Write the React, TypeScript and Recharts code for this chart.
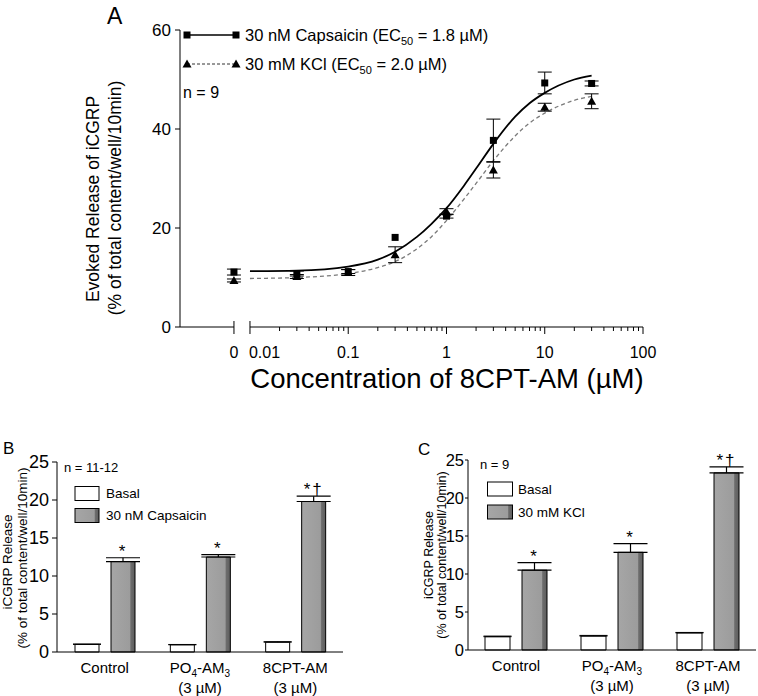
import React from "react";
import {
  ComposedChart, BarChart, Bar, Line, Scatter, XAxis, YAxis,
  ErrorBar, ReferenceLine, LabelList,
} from "recharts";

const FONT = "Arial, 'Liberation Sans', Helvetica, sans-serif";

// ---- Panel A: concentration-response ----
const conc = [0, 0.03, 0.1, 0.3, 1, 3, 10, 30];
const capsMean = [11.1, 10.8, 11.2, 18.1, 22.4, 37.7, 49.3, 49.2];
const capsSem = [0.6, 0.5, 0.4, 0, 0.4, 4.3, 2.2, 0.5];
const kclMean = [9.4, 10.2, 11.0, 14.6, 23.3, 31.7, 44.4, 45.6];
const kclSem = [0.3, 0.4, 0.6, 1.6, 0.6, 1.6, 0.8, 1.5];

const fitConc = [0.01, 0.03, 0.1, 0.2, 0.3, 0.5, 0.7, 1, 1.5, 2, 3, 5, 7, 10, 20, 30];
const capsFit = [11.3, 11.4, 12.2, 13.6, 15.2, 18.2, 20.8, 24.0, 28.5, 32.0, 37.0, 42.5, 45.2, 47.3, 50.0, 50.8];
const kclFit = [9.8, 10.0, 10.8, 12.0, 13.2, 15.8, 18.2, 21.5, 25.8, 29.0, 33.6, 38.6, 41.2, 43.2, 45.8, 46.6];

const xMajor = [0.01, 0.1, 1, 10, 100];
const xMajorLabels = ["0.01", "0.1", "1", "10", "100"];
const yTicksA = [0, 20, 40, 60];

// ---- Panels B and C: bar charts ----
const groups = ["Control", "PO4-AM3", "8CPT-AM"];
const groupSub = ["", "(3 \u00b5M)", "(3 \u00b5M)"];
const sigMarks = ["*", "*", "*\u2020"];
const yTicksBC = [0, 5, 10, 15, 20, 25];

const bBasal = [1.0, 0.95, 1.3];
const bBasalErr = [0.05, 0.04, 0.05];
const bCaps = [11.9, 12.5, 19.8];
const bCapsErr = [0.5, 0.3, 0.7];

const cBasal = [1.75, 1.84, 2.25];
const cBasalErr = [0.08, 0.08, 0.06];
const cKcl = [10.5, 12.85, 23.3];
const cKclErr = [1.0, 1.15, 0.8];

// break in the x axis of panel A: "0" is drawn left of 0.01
const ZERO_POS = 0.00687;
const X_MIN = 0.00194;

const capsPts = conc.map((c, i) => ({ x: c === 0 ? ZERO_POS : c, y: capsMean[i], e: capsSem[i] }));
const kclPts = conc.map((c, i) => ({ x: c === 0 ? ZERO_POS : c, y: kclMean[i], e: kclSem[i] }));
const capsLine = fitConc.map((c, i) => ({ x: c, y: capsFit[i] }));
const kclLine = fitConc.map((c, i) => ({ x: c, y: kclFit[i] }));

const minorTicks: number[] = [];
for (let d = -2; d < 2; d++) for (let m = 2; m <= 9; m++) minorTicks.push(m * Math.pow(10, d));
const allTicks = [ZERO_POS, ...xMajor, ...minorTicks].sort((a, b) => a - b);

const same = (a: number, b: number) => Math.abs(a / b - 1) < 1e-6;

const LogTick = (props: any) => {
  const { x, y, payload } = props;
  const v = payload.value;
  let lbl: string | null = null;
  if (same(v, ZERO_POS)) lbl = "0";
  xMajor.forEach((m, i) => { if (same(v, m)) lbl = xMajorLabels[i]; });
  const isBreak = same(v, ZERO_POS) || same(v, 0.01);
  // 0.01 label sits right of its tick so it clears the "0"
  const anchor = same(v, 0.01) ? "start" : "middle";
  return (
    <g>
      <line x1={x} x2={x} y1={isBreak ? y - 6 : y} y2={y + (lbl ? 7 : 4)} stroke="#000" strokeWidth={1} />
      {lbl && (
        <text x={same(v, 0.01) ? x - 1 : x} y={y + 31} textAnchor={anchor} fontSize={16} fontFamily={FONT} fill="#000">{lbl}</text>
      )}
    </g>
  );
};

const Square = (p: any) => <rect x={p.cx - 3.5} y={p.cy - 3.5} width={7} height={7} fill="#000" />;
const Tri = (p: any) => (
  <path d={`M${p.cx},${p.cy - 4.5}L${p.cx + 4.5},${p.cy + 3.5}L${p.cx - 4.5},${p.cy + 3.5}Z`} fill="#000" />
);

function PanelA() {
  return (
    <ComposedChart width={758} height={400} margin={{ top: 30, right: 115, bottom: 43, left: 120 }}>
      <XAxis
        type="number" dataKey="x" scale="log" domain={[X_MIN, 100]} allowDataOverflow
        ticks={allTicks} interval={0} tick={<LogTick />} tickLine={false} axisLine={false}
        tickSize={0} tickMargin={0} height={30}
      />
      <YAxis
        type="number" domain={[0, 60]} ticks={yTicksA} width={60}
        axisLine={{ stroke: "#000" }} tickLine={{ stroke: "#000" }} tickSize={5} tickMargin={4}
        tick={{ fill: "#000", fontSize: 17, fontFamily: FONT }}
      />
      <ReferenceLine segment={[{ x: X_MIN, y: 0 }, { x: ZERO_POS, y: 0 }]} stroke="#000" ifOverflow="visible" />
      <ReferenceLine segment={[{ x: 0.01, y: 0 }, { x: 100, y: 0 }]} stroke="#000" ifOverflow="visible" />
      <Line data={kclLine} dataKey="y" type="monotone" stroke="#7a7a7a" strokeWidth={1.3}
        strokeDasharray="4 3" dot={false} isAnimationActive={false} />
      <Line data={capsLine} dataKey="y" type="monotone" stroke="#000" strokeWidth={1.8}
        dot={false} isAnimationActive={false} />
      <Scatter data={kclPts} dataKey="y" shape={Tri} isAnimationActive={false}>
        <ErrorBar dataKey="e" direction="y" width={7} stroke="#000" strokeWidth={1} />
      </Scatter>
      <Scatter data={capsPts} dataKey="y" shape={Square} isAnimationActive={false}>
        <ErrorBar dataKey="e" direction="y" width={7} stroke="#000" strokeWidth={1} />
      </Scatter>
    </ComposedChart>
  );
}

const GroupTick = (props: any) => {
  const { x, y, payload } = props;
  const i = groups.indexOf(payload.value);
  const main = payload.value === "PO4-AM3" ? (
    <>
      PO<tspan dy={4} fontSize={10}>4</tspan>
      <tspan dy={-4}>-AM</tspan>
      <tspan dy={4} fontSize={10}>3</tspan>
    </>
  ) : payload.value;
  return (
    <g>
      <text x={x} y={y + 21} textAnchor="middle" fontSize={15} fontFamily={FONT} fill="#000">{main}</text>
      {groupSub[i] && (
        <text x={x} y={y + 41} textAnchor="middle" fontSize={15} fontFamily={FONT} fill="#000">{groupSub[i]}</text>
      )}
    </g>
  );
};

function BarPanel(props: {
  id: string; basal: number[]; basalErr: number[]; stim: number[]; stimErr: number[];
  width: number; barSize: number; margin: any; tickFont: number; tickSize: number; tickMargin: number;
}) {
  const { id, basal, basalErr, stim, stimErr, width, barSize, margin, tickFont, tickSize, tickMargin } = props;
  const rows = groups.map((g, i) => ({
    name: g, basal: basal[i], basalErr: [0, basalErr[i]],
    stim: stim[i], stimErr: [0, stimErr[i]], sig: sigMarks[i],
  }));
  const SigLabel = (p: any) => {
    const { x, y, width: w, height: h, index } = p;
    const pxPerUnit = h / stim[index];
    const top = y - stimErr[index] * pxPerUnit;
    return (
      <text x={x + w / 2} y={top - 1} textAnchor="middle" fontSize={17} fontFamily={FONT}
        letterSpacing={2} fill="#000">{sigMarks[index]}</text>
    );
  };
  return (
    <BarChart width={width} height={256} data={rows} margin={margin} barSize={barSize} barGap={12}>
      <defs>
        <linearGradient id={id} x1="0" y1="0" x2="1" y2="0">
          <stop offset="0" stopColor="#a6a6a6" />
          <stop offset="0.78" stopColor="#9c9c9c" />
          <stop offset="0.83" stopColor="#6c6c6c" />
          <stop offset="1" stopColor="#5e5e5e" />
        </linearGradient>
      </defs>
      <XAxis dataKey="name" tick={<GroupTick />} tickLine={false} axisLine={{ stroke: "#000" }}
        tickSize={0} tickMargin={0} height={30} interval={0} />
      <YAxis domain={[0, 25]} ticks={yTicksBC} width={40} axisLine={{ stroke: "#000" }}
        tickLine={{ stroke: "#000" }} tickSize={tickSize} tickMargin={tickMargin}
        tick={{ fill: "#000", fontSize: tickFont, fontFamily: FONT }} />
      <Bar dataKey="basal" fill="#fff" stroke="#000" strokeWidth={1} isAnimationActive={false}>
        <ErrorBar dataKey="basalErr" direction="y" width={14} stroke="#000" strokeWidth={1} />
      </Bar>
      <Bar dataKey="stim" fill={`url(#${id})`} stroke="#000" strokeWidth={1} isAnimationActive={false}>
        <ErrorBar dataKey="stimErr" direction="y" width={17} stroke="#000" strokeWidth={1.2} />
        <LabelList dataKey="sig" content={SigLabel} />
      </Bar>
    </BarChart>
  );
}

const Sub50 = () => (
  <>
    <tspan dy={4} fontSize={11}>50</tspan>
    <tspan dy={-4}> </tspan>
  </>
);

function Overlay() {
  const t = { fontFamily: FONT, fill: "#000" };
  return (
    <svg width={758} height={696} style={{ position: "absolute", left: 0, top: 0, pointerEvents: "none" }}>
      <defs>
        <linearGradient id="legGrey" x1="0" y1="0" x2="1" y2="0">
          <stop offset="0" stopColor="#a6a6a6" />
          <stop offset="0.8" stopColor="#9c9c9c" />
          <stop offset="0.85" stopColor="#6c6c6c" />
          <stop offset="1" stopColor="#5e5e5e" />
        </linearGradient>
      </defs>
      {/* Panel A */}
      <text x={107} y={24} fontSize={23} {...t}>A</text>
      <line x1={187} x2={236} y1={35} y2={35} stroke="#000" strokeWidth={1.5} />
      <rect x={183.5} y={31.5} width={7} height={7} fill="#000" />
      <rect x={232.5} y={31.5} width={7} height={7} fill="#000" />
      <text x={245} y={41} fontSize={16.5} {...t}>
        30 nM Capsaicin (EC<Sub50 />= 1.8 {"\u00b5"}M)
      </text>
      <line x1={187} x2={236} y1={64} y2={64} stroke="#333" strokeWidth={1} strokeDasharray="3 2" />
      <path d="M187,59.5L191.5,67.5L182.5,67.5Z" fill="#000" />
      <path d="M236,59.5L240.5,67.5L231.5,67.5Z" fill="#000" />
      <text x={245} y={70} fontSize={16.5} {...t}>
        30 mM KCl (EC<Sub50 />= 2.0 {"\u00b5"}M)
      </text>
      <text x={183} y={98} fontSize={16} {...t}>n = 9</text>
      <text transform="translate(93,199) rotate(-90)" textAnchor="middle" dominantBaseline="central" fontSize={17.5} {...t}>
        Evoked Release of iCGRP
      </text>
      <text transform="translate(115,198) rotate(-90)" textAnchor="middle" dominantBaseline="central" fontSize={17.5} {...t}>
        (% of total content/well/10min)
      </text>
      <text x={447} y={388} textAnchor="middle" fontSize={27.5} {...t}>
        Concentration of 8CPT-AM ({"\u00b5"}M)
      </text>

      {/* Panel B */}
      <text x={3} y={454} fontSize={17} {...t}>B</text>
      <text x={64} y={472} fontSize={13} {...t}>n = 11-12</text>
      <rect x={75} y={486.5} width={24} height={14} fill="#fff" stroke="#000" />
      <rect x={75} y={508.5} width={24} height={14} fill="url(#legGrey)" stroke="#000" />
      <text x={106} y={498} fontSize={13.5} {...t}>Basal</text>
      <text x={106} y={520} fontSize={13.5} {...t}>30 nM Capsaicin</text>
      <text transform="translate(7,562) rotate(-90)" textAnchor="middle" dominantBaseline="central" fontSize={13.5} {...t}>
        iCGRP Release
      </text>
      <text transform="translate(22,558) rotate(-90)" textAnchor="middle" dominantBaseline="central" fontSize={13.5} {...t}>
        (% of total content/well/10min)
      </text>

      {/* Panel C */}
      <text x={418} y={455} fontSize={17} {...t}>C</text>
      <text x={480} y={469} fontSize={13} {...t}>n = 9</text>
      <rect x={487.5} y={482} width={25} height={14} fill="#fff" stroke="#000" />
      <rect x={487.5} y={505} width={25} height={14} fill="url(#legGrey)" stroke="#000" />
      <text x={518} y={494} fontSize={13.5} {...t}>Basal</text>
      <text x={518} y={517} fontSize={13.5} {...t}>30 mM KCl</text>
      <text transform="translate(429,555) rotate(-90)" textAnchor="middle" dominantBaseline="central" fontSize={12.5} {...t}>
        iCGRP Release
      </text>
      <text transform="translate(442,555) rotate(-90)" textAnchor="middle" dominantBaseline="central" fontSize={12.5} {...t}>
        (% of total content/well/10min)
      </text>
    </svg>
  );
}

export default function App() {
  return (
    <div style={{ position: "absolute", left: 0, top: 0, width: 758, height: 696, background: "#fff", fontFamily: FONT }}>
      <div style={{ position: "absolute", left: 0, top: 0 }}>
        <PanelA />
      </div>
      <div style={{ position: "absolute", left: 0, top: 440 }}>
        <BarPanel id="gB" basal={bBasal} basalErr={bBasalErr} stim={bCaps} stimErr={bCapsErr}
          width={360} barSize={24} margin={{ top: 22, right: 17, bottom: 14, left: 17 }}
          tickFont={18} tickSize={5} tickMargin={3} />
      </div>
      <div style={{ position: "absolute", left: 400, top: 440 }}>
        <BarPanel id="gC" basal={cBasal} basalErr={cBasalErr} stim={cKcl} stimErr={cKclErr}
          width={358} barSize={25} margin={{ top: 20, right: 2, bottom: 16, left: 28 }}
          tickFont={16.5} tickSize={3} tickMargin={1} />
      </div>
      <Overlay />
    </div>
  );
}
